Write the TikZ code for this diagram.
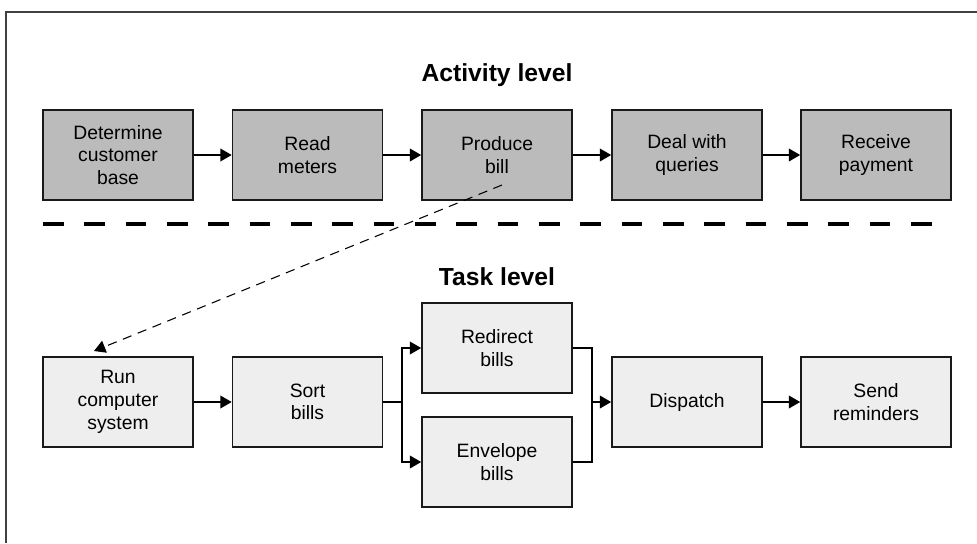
\documentclass[tikz,border=0pt]{standalone}
\usepackage{fontspec}
\setmainfont{Liberation Sans}
\usepackage{tikz}
\usetikzlibrary{arrows.meta}

\definecolor{actgray}{HTML}{BBBBBB}
\definecolor{taskgray}{HTML}{EEEEEE}

\begin{document}
\begin{tikzpicture}[x=0.75pt,y=-0.75pt,
    actbox/.style={draw=black!90,line width=1.2pt,fill=actgray,minimum width=112.5pt,
        minimum height=67.5pt,align=center,font=\fontsize{14.5}{17}\selectfont},
    taskbox/.style={actbox,fill=taskgray},
    flow/.style={line width=1.2pt,-{Triangle[length=8.5pt,width=9.5pt]}},
    title/.style={font=\fontsize{18.5}{22}\selectfont\bfseries}]
        \useasboundingbox (0,0) rectangle (977,543);
        \draw[black!75,line width=1.1pt] (6,543) -- (6,12) -- (977,12);

        % activity level
        \node[title] (activity) at (497,75) {Activity level};
        \node[actbox] (determine) at (118,155) {Determine\\customer\\base};
        \node[actbox] (read) at (307.5,155) {Read\\meters};
        \node[actbox] (produce) at (497,155) {Produce\\bill};
        \node[actbox] (deal) at (687,155) {Deal with\\queries};
        \node[actbox] (receive) at (876,155) {Receive\\payment};

        \draw[flow] (determine) -- (read);
        \draw[flow] (read) -- (produce);
        \draw[flow] (produce) -- (deal);
        \draw[flow] (deal) -- (receive);

        \draw[line width=2.6pt,dash pattern=on 15.5pt off 15.5pt] (43,224) -- (940,224);

        % task level
        \node[title] (task) at (497,277) {Task level};
        \node[taskbox] (run) at (118,402) {Run\\computer\\system};
        \node[taskbox] (sort) at (307.5,402) {Sort\\bills};
        \node[taskbox] (redirect) at (497,348) {Redirect\\bills};
        \node[taskbox] (envelope) at (497,462) {Envelope\\bills};
        \node[taskbox] (dispatch) at (687,402) {Dispatch};
        \node[taskbox] (remind) at (876,402) {Send\\reminders};

        \coordinate (split) at (402,402);
        \coordinate (merge) at (592,402);

        \draw[flow] (run) -- (sort);
        \draw[line width=1.2pt] (sort.east) -- (split);
        \draw[flow] (split) |- (redirect.west);
        \draw[flow] (split) |- (envelope.west);
        \draw[line width=1.2pt] (redirect.east) -| (merge);
        \draw[line width=1.2pt] (envelope.east) -| (merge);
        \draw[flow] (merge) -- (dispatch);
        \draw[flow] (dispatch) -- (remind);

        % produce bill expands into the tasks
        \coordinate (billout) at (502,185);
        \coordinate (runin) at (94,351);
        \draw[flow,line width=0.8pt,dash pattern=on 7pt off 5pt] (billout) -- (runin);
    \end{tikzpicture}
\end{document}
